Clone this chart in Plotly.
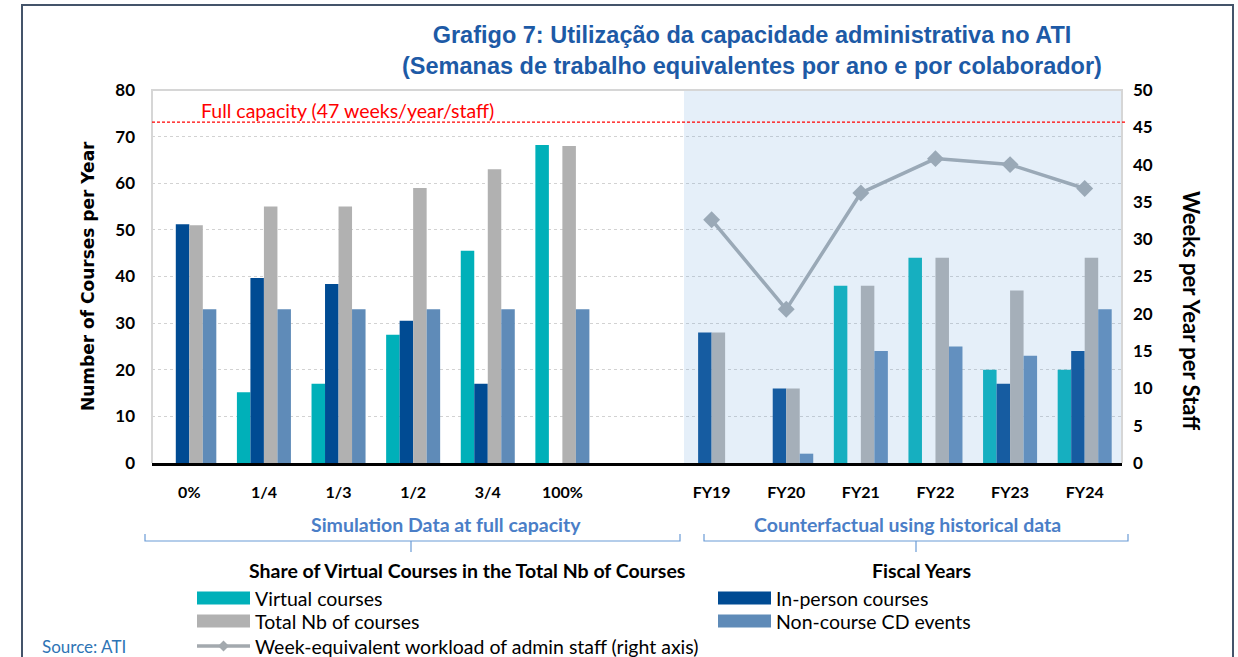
import plotly.graph_objects as go

# ---------------- data ----------------
sim_labels = ["0%", "1/4", "1/3", "1/2", "3/4", "100%"]
fy_labels = ["FY19", "FY20", "FY21", "FY22", "FY23", "FY24"]
gap_label = " "

sim_virtual = [0, 15.2, 17, 27.5, 45.5, 68.2]
sim_inperson = [51.2, 39.7, 38.4, 30.5, 17, 0]
sim_total = [51, 55, 55, 59, 63, 68]
sim_noncourse = [33, 33, 33, 33, 33, 33]

fy_virtual = [0, 0, 38, 44, 20, 20]
fy_inperson = [28, 16, 0, 0, 17, 24]
fy_total = [28, 16, 38, 44, 37, 44]
fy_noncourse = [0, 2, 24, 25, 23, 33]

fy_workload = [32.6, 20.6, 36.2, 40.8, 40.0, 36.8]
full_capacity = 45.7  # right-axis position of the dashed line

y_left_ticks = [0, 10, 20, 30, 40, 50, 60, 70, 80]
y_right_ticks = [0, 5, 10, 15, 20, 25, 30, 35, 40, 45, 50]

# ---------------- layout constants (screen pixels) ----------------
W, H = 1238, 657
L, R, T, B = 152, 1122, 90, 463


def px(x):
    return (x - L) / (R - L)


def py(y):
    return (B - y) / (B - T)


x_all = sim_labels + [gap_label] + fy_labels
virtual = sim_virtual + [None] + fy_virtual
inperson = sim_inperson + [None] + fy_inperson
total = sim_total + [None] + fy_total
noncourse = sim_noncourse + [None] + fy_noncourse

C_VIRT = "#00B0B9"
C_INP = "#004B93"
C_TOT = "#B1B1B1"
C_NON = "#5F8BB8"
C_LINE = "#A3A9AE"

fig = go.Figure()
for name, vals, col in [
    ("Virtual courses", virtual, C_VIRT),
    ("In-person courses", inperson, C_INP),
    ("Total Nb of courses", total, C_TOT),
    ("Non-course CD events", noncourse, C_NON),
]:
    fig.add_trace(go.Bar(x=x_all, y=vals, name=name, marker=dict(color=col, line=dict(width=0)),
                         showlegend=False, yaxis="y"))

fig.add_trace(go.Scatter(x=fy_labels, y=fy_workload, yaxis="y2", mode="lines+markers",
                         line=dict(color=C_LINE, width=3.5),
                         marker=dict(symbol="diamond", size=13, color=C_LINE),
                         showlegend=False, name="Week-equivalent workload of admin staff (right axis)"))

TICKFONT = dict(family="Lato", size=17, color="black", weight="bold")
fig.update_layout(
    width=W, height=H,
    margin=dict(l=L, r=W - R, t=T, b=H - B),
    paper_bgcolor="white", plot_bgcolor="white",
    barmode="group", bargap=0.276, bargroupgap=0,
    xaxis=dict(type="category", categoryarray=x_all, categoryorder="array",
               range=[-0.5, len(x_all) - 0.5],
               showline=True, linecolor="black", linewidth=2.5,
               ticks="", showgrid=False, tickfont=dict(family="Lato", size=16, color="black", weight="bold"),
               ticklabelstandoff=13),
    yaxis=dict(range=[0, 80], tickvals=y_left_ticks, showgrid=True, gridcolor="#D2D2D2",
               griddash="dot", gridwidth=1, zeroline=False, showline=False, ticks="",
               tickfont=TICKFONT, ticklabelstandoff=16),
    yaxis2=dict(range=[0, 50], tickvals=y_right_ticks, overlaying="y", side="right",
                showgrid=False, zeroline=False, showline=False, ticks="",
                tickfont=TICKFONT, ticklabelstandoff=10),
)

shapes = []
# shaded counterfactual region (semi-transparent overlay)
shapes.append(dict(type="rect", xref="x", yref="paper", x0=6.63, x1=12.5, y0=0, y1=1,
                   fillcolor="rgba(115,168,221,0.19)", line=dict(width=0), layer="above"))
# plot-area border (top, left, right)
shapes.append(dict(type="path", xref="paper", yref="paper",
                   path="M 0 0 L 0 1 L 1 1 L 1 0",
                   line=dict(color="#D6D6D6", width=2), layer="above"))
# full capacity dashed line
shapes.append(dict(type="line", xref="paper", yref="y2", x0=0, x1=px(1126),
                   y0=full_capacity, y1=full_capacity,
                   line=dict(color="#FF0000", width=1.2, dash="3px,2px"), layer="above"))
# outer frame
FR = "#44546A"
shapes.append(dict(type="path", xref="paper", yref="paper",
                   path=f"M {px(22)} {py(H + 5)} L {px(22)} {py(5)} L {px(1233)} {py(5)} L {px(1233)} {py(H + 5)}",
                   line=dict(color=FR, width=2)))
# braces
BR = "#6A9BD6"
for x0, x1, xm in [(145, 680, 411), (704, 1128, 916)]:
    shapes.append(dict(type="path", xref="paper", yref="paper",
                       path=f"M {px(x0)} {py(534)} L {px(x0)} {py(541)} L {px(x1)} {py(541)} L {px(x1)} {py(534)}",
                       line=dict(color=BR, width=1.2)))
    shapes.append(dict(type="line", xref="paper", yref="paper", x0=px(xm), x1=px(xm),
                       y0=py(541), y1=py(552), line=dict(color=BR, width=1.2)))

# legend swatches
leg = [
    (197, 250, 598, C_VIRT, "Virtual courses"),
    (197, 250, 621, C_TOT, "Total Nb of courses"),
    (718, 771, 598, C_INP, "In-person courses"),
    (718, 771, 621, C_NON, "Non-course CD events"),
]
annotations = []
LEGFONT = dict(family="Lato", size=19.5, color="black")
for x0, x1, yc, col, txt in leg:
    shapes.append(dict(type="rect", xref="paper", yref="paper", x0=px(x0), x1=px(x1),
                       y0=py(yc + 6.5), y1=py(yc - 6.5), fillcolor=col, line=dict(width=0)))
    annotations.append(dict(x=px(x1 + 3), y=py(yc), xref="paper", yref="paper", text=txt,
                            showarrow=False, xanchor="left", yanchor="middle", font=LEGFONT))
# line legend
shapes.append(dict(type="line", xref="paper", yref="paper", x0=px(197), x1=px(250),
                   y0=py(646), y1=py(646), line=dict(color=C_LINE, width=3.5)))
d = 5.5
shapes.append(dict(type="path", xref="paper", yref="paper",
                   path=f"M {px(223.5 - d)} {py(646)} L {px(223.5)} {py(646 - d)} L {px(223.5 + d)} {py(646)} L {px(223.5)} {py(646 + d)} Z",
                   fillcolor=C_LINE, line=dict(width=0)))
annotations.append(dict(x=px(253), y=py(646), xref="paper", yref="paper",
                        text="Week-equivalent workload of admin staff (right axis)",
                        showarrow=False, xanchor="left", yanchor="middle", font=LEGFONT))

# title
annotations.append(dict(x=px(752), y=py(51), xref="paper", yref="paper",
                        text="Grafigo 7: Utilização da capacidade administrativa no ATI<br>(Semanas de trabalho equivalentes por ano e por colaborador)",
                        showarrow=False, xanchor="center", yanchor="middle",
                        font=dict(family="Liberation Sans", size=23.5, color="#1D5AA6", weight="bold")))
# full capacity label
annotations.append(dict(x=px(199), y=py(110), xref="paper", yref="paper",
                        text="Full capacity (47 weeks/year/staff)", showarrow=False,
                        xanchor="left", yanchor="middle",
                        font=dict(family="Lato", size=19.5, color="#FF0000")))
# axis titles
annotations.append(dict(x=px(88), y=py(276), xref="paper", yref="paper",
                        text="Number of Courses per Year", textangle=-90, showarrow=False,
                        xanchor="center", yanchor="middle",
                        font=dict(family="DejaVu Sans", size=17, color="black", weight="bold")))
annotations.append(dict(x=px(1192), y=py(310), xref="paper", yref="paper",
                        text="Weeks per Year per Staff", textangle=90, showarrow=False,
                        xanchor="center", yanchor="middle",
                        font=dict(family="Lato", size=22, color="black", weight="bold")))
# group labels
GL = dict(family="Lato", size=19.5, color="#4A7EC7", weight="bold")
annotations.append(dict(x=px(446), y=py(524), xref="paper", yref="paper",
                        text="Simulation Data at full capacity", showarrow=False,
                        xanchor="center", yanchor="middle", font=GL))
annotations.append(dict(x=px(907), y=py(524), xref="paper", yref="paper",
                        text="Counterfactual using historical data", showarrow=False,
                        xanchor="center", yanchor="middle", font=GL))
AX = dict(family="Lato", size=19.5, color="black", weight="bold")
annotations.append(dict(x=px(467), y=py(570), xref="paper", yref="paper",
                        text="Share of Virtual Courses in the Total Nb of Courses", showarrow=False,
                        xanchor="center", yanchor="middle", font=AX))
annotations.append(dict(x=px(921), y=py(570), xref="paper", yref="paper",
                        text="Fiscal Years", showarrow=False,
                        xanchor="center", yanchor="middle", font=AX))
annotations.append(dict(x=px(40), y=py(646), xref="paper", yref="paper",
                        text="Source: ATI", showarrow=False,
                        xanchor="left", yanchor="middle",
                        font=dict(family="Lato", size=17, color="#2E74B5")))

fig.update_layout(shapes=shapes, annotations=annotations)
fig.write_html("out.html", config={"displayModeBar": False},
               post_script="document.body.style.margin='0';document.body.style.overflow='hidden';")
